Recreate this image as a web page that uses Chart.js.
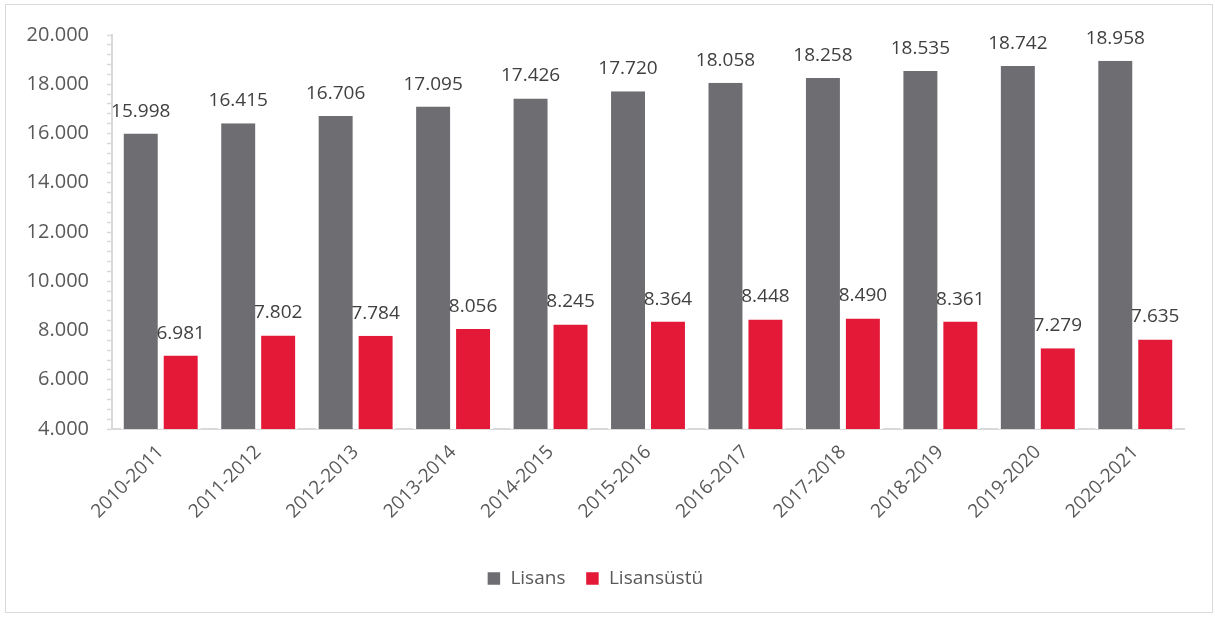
<!DOCTYPE html>
<html>
<head>
<meta charset="utf-8">
<script src="https://cdn.jsdelivr.net/npm/chart.js@4"></script>
<style>
  html, body { margin: 0; padding: 0; background: #fff; }
  #frame { position: absolute; left: 5px; top: 4px; width: 1206px; height: 607px; border: 1px solid #d9d9d9; }
  canvas { display: block; }
</style>
</head>
<body>
<div id="frame"><canvas id="chart" width="1206" height="607"></canvas></div>
<script>
// academic years
var years = ['2010-2011', '2011-2012', '2012-2013', '2013-2014', '2014-2015', '2015-2016',
	'2016-2017', '2017-2018', '2018-2019', '2019-2020', '2020-2021'];
var lisans = [15998, 16415, 16706, 17095, 17426, 17720, 18058, 18258, 18535, 18742, 18958];
var lisansustu = [6981, 7802, 7784, 8056, 8245, 8364, 8448, 8490, 8361, 7279, 7635];

var FONT = '"Open Sans", Roboto, sans-serif';

function fmt(v) {
	return String(v).replace(/\B(?=(\d{3})+(?!\d))/g, '.');
}

// value labels above each bar
var barLabels = {
	id: 'barLabels',
	afterDatasetsDraw: function(chart) {
		var ctx = chart.ctx;
		ctx.save();
		ctx.font = '19px ' + FONT;
		ctx.fillStyle = '#404040';
		ctx.textAlign = 'center';
		ctx.textBaseline = 'alphabetic';
		chart.data.datasets.forEach(function(ds, i) {
			chart.getDatasetMeta(i).data.forEach(function(bar, j) {
				ctx.fillText(fmt(ds.data[j]), bar.x, bar.y - 17);
			});
		});
		ctx.restore();
	}
};

new Chart(document.getElementById('chart'), {
	type: 'bar',
	data: {
		labels: years,
		datasets: [
			{ label: 'Lisans', data: lisans, backgroundColor: '#6E6D72', borderColor: '#ffffff',
				borderWidth: { left: 3, right: 3, top: 0, bottom: 0 }, borderSkipped: false },
			{ label: 'Lisansüstü', data: lisansustu, backgroundColor: '#E41937', borderColor: '#ffffff',
				borderWidth: { left: 3, right: 3, top: 0, bottom: 0 }, borderSkipped: false }
		]
	},
	options: {
		responsive: false,
		animation: false,
		layout: { padding: { left: 0, right: 28, top: 28, bottom: 14 } },
		plugins: {
			tooltip: { enabled: false },
			legend: {
				position: 'bottom',
				labels: { font: { family: FONT, size: 19 }, color: '#595959', boxWidth: 14, boxHeight: 14, padding: 20 }
			}
		},
		datasets: { bar: { categoryPercentage: 0.82, barPercentage: 1 } },
		scales: {
			x: {
				grid: { display: false, drawTicks: false },
				border: { color: '#d9d9d9', width: 2 },
				ticks: { font: { family: FONT, size: 19 }, color: '#595959', minRotation: 45, maxRotation: 45, padding: 12 },
				afterFit: function(s) { s.height = 120; }
			},
			y: {
				min: 4000,
				max: 20000,
				grid: { drawOnChartArea: false, tickLength: 5, color: '#d9d9d9', tickWidth: 1.5 },
				border: { color: '#d9d9d9', width: 2 },
				ticks: {
					stepSize: 400, autoSkip: false, padding: 18,
					font: { family: FONT, size: 20 }, color: '#595959',
					callback: function(v) { return v % 2000 === 0 ? fmt(v) : ''; }
				},
				afterFit: function(s) { s.width = 106; }
			}
		}
	},
	plugins: [barLabels]
});
</script>
</body>
</html>
